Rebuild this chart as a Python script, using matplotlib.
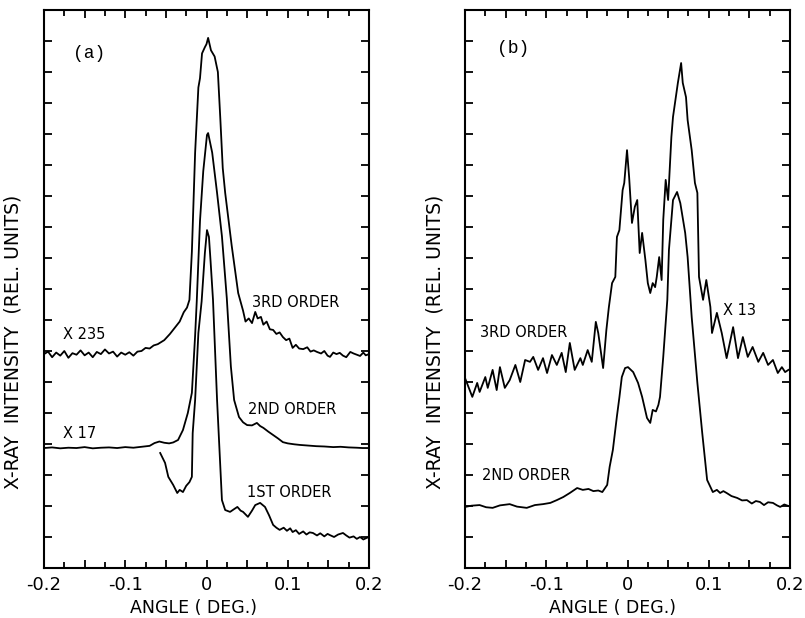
import matplotlib
matplotlib.use('Agg')
import matplotlib.pyplot as plt
from matplotlib.ticker import MultipleLocator

# x tick positions and labels (same on both panels)
xtick_pos = [-0.2, -0.15, -0.1, -0.05, 0, 0.05, 0.1, 0.15, 0.2]
xtick_labels = ['-0.2', '', '-0.1', '', '0', '', '0.1', '', '0.2']
ytick_pos = list(range(1, 18))

# panel (a), 3rd order (x235)
a3_x = [-0.200, -0.195, -0.190, -0.185, -0.180, -0.175, -0.170, -0.165, -0.160, -0.155,
        -0.150, -0.145, -0.140, -0.135, -0.130, -0.125, -0.120, -0.115, -0.110, -0.105,
        -0.100, -0.095, -0.090, -0.085, -0.080, -0.075, -0.070, -0.065, -0.060, -0.052,
        -0.045, -0.039, -0.033, -0.028, -0.024, -0.021, -0.018, -0.014, -0.010, -0.008,
        -0.0055, -0.002, 0.000, 0.002, 0.0055, 0.010, 0.014, 0.017, 0.020, 0.023,
        0.031, 0.039, 0.045, 0.048, 0.052, 0.056, 0.060, 0.063, 0.067, 0.070,
        0.074, 0.078, 0.082, 0.086, 0.090, 0.094, 0.098, 0.102, 0.106, 0.110,
        0.114, 0.119, 0.124, 0.128, 0.132, 0.136, 0.141, 0.145, 0.149, 0.152,
        0.156, 0.160, 0.164, 0.168, 0.172, 0.177, 0.181, 0.185, 0.189, 0.193,
        0.196, 0.200]
a3_y = [6.90, 6.98, 6.80, 6.95, 6.85, 7.00, 6.78, 6.93, 6.88, 7.02,
        6.86, 6.95, 6.80, 6.97, 6.90, 7.05, 6.92, 6.98, 6.82, 6.95,
        6.88, 6.96, 6.85, 6.98, 7.00, 7.10, 7.08, 7.18, 7.22, 7.35,
        7.55, 7.75, 7.95, 8.25, 8.40, 8.65, 10.2, 13.4, 15.5, 15.8,
        16.6, 16.8, 16.9, 17.1, 16.7, 16.5, 16.0, 14.5, 12.9, 12.1,
        10.4, 8.87, 8.30, 7.95, 8.05, 7.90, 8.26, 8.05, 8.10, 7.85,
        7.95, 7.70, 7.68, 7.55, 7.60, 7.45, 7.35, 7.40, 7.10, 7.20,
        7.08, 7.06, 7.12, 6.98, 7.02, 6.97, 6.92, 7.00, 6.85, 6.81,
        6.95, 6.90, 6.94, 6.85, 6.80, 6.97, 6.92, 6.88, 6.84, 6.95,
        6.86, 6.90]

# panel (a), 2nd order (x17)
a2_x = [-0.200, -0.190, -0.180, -0.170, -0.160, -0.150, -0.140, -0.130, -0.120, -0.110,
        -0.100, -0.090, -0.080, -0.070, -0.064, -0.058, -0.052, -0.046, -0.041, -0.035,
        -0.029, -0.023, -0.018, -0.014, -0.012, -0.008, -0.004, 0.0006, 0.002, 0.007,
        0.013, 0.019, 0.025, 0.030, 0.034, 0.040, 0.045, 0.050, 0.056, 0.062,
        0.066, 0.070, 0.076, 0.082, 0.088, 0.094, 0.100, 0.108, 0.115, 0.125,
        0.135, 0.145, 0.156, 0.165, 0.175, 0.185, 0.192, 0.200]
a2_y = [3.87, 3.89, 3.86, 3.88, 3.87, 3.90, 3.86, 3.88, 3.89, 3.87,
        3.90, 3.88, 3.91, 3.94, 4.03, 4.08, 4.04, 4.02, 4.05, 4.13,
        4.45, 5.00, 5.65, 7.50, 8.60, 11.2, 12.8, 13.97, 14.03, 13.4,
        12.1, 10.7, 8.70, 6.50, 5.42, 4.87, 4.70, 4.61, 4.60, 4.68,
        4.58, 4.52, 4.40, 4.29, 4.18, 4.06, 4.02, 3.99, 3.97, 3.95,
        3.93, 3.92, 3.90, 3.91, 3.89, 3.88, 3.87, 3.87]

# panel (a), 1st order
a1_x = [-0.057, -0.051, -0.047, -0.041, -0.036, -0.033, -0.029, -0.025, -0.021, -0.018,
        -0.017, -0.014, -0.010, -0.006, -0.002, 0.0006, 0.003, 0.005, 0.008, 0.013,
        0.019, 0.023, 0.029, 0.034, 0.038, 0.042, 0.045, 0.051, 0.056, 0.060,
        0.066, 0.072, 0.077, 0.082, 0.086, 0.090, 0.095, 0.099, 0.103, 0.106,
        0.110, 0.114, 0.119, 0.123, 0.127, 0.131, 0.136, 0.140, 0.145, 0.149,
        0.152, 0.157, 0.162, 0.168, 0.172, 0.176, 0.181, 0.185, 0.189, 0.193,
        0.197, 0.200]
a1_y = [3.71, 3.39, 2.94, 2.68, 2.42, 2.52, 2.45, 2.65, 2.77, 2.94,
        4.35, 5.42, 7.58, 8.60, 10.16, 10.90, 10.68, 9.90, 8.65, 5.42,
        2.19, 1.87, 1.81, 1.90, 1.97, 1.85, 1.81, 1.65, 1.85, 2.03,
        2.10, 1.97, 1.70, 1.39, 1.30, 1.23, 1.30, 1.20, 1.28, 1.16,
        1.22, 1.10, 1.18, 1.08, 1.15, 1.13, 1.05, 1.12, 1.02, 1.10,
        1.06, 1.00, 1.08, 1.13, 1.05, 0.98, 1.02, 0.94, 1.00, 0.92,
        0.97, 1.00]

# panel (b), 3rd order (x13)
b3_x = [-0.200, -0.191, -0.185, -0.182, -0.175, -0.172, -0.166, -0.161, -0.157, -0.151,
        -0.145, -0.138, -0.132, -0.126, -0.120, -0.116, -0.110, -0.104, -0.099, -0.093,
        -0.087, -0.081, -0.076, -0.071, -0.065, -0.058, -0.055, -0.049, -0.044, -0.039,
        -0.036, -0.030, -0.026, -0.023, -0.019, -0.015, -0.013, -0.010, -0.006, -0.004,
        -0.0006, 0.002, 0.0055, 0.009, 0.012, 0.015, 0.018, 0.022, 0.025, 0.028,
        0.031, 0.034, 0.036, 0.039, 0.042, 0.044, 0.047, 0.050, 0.054, 0.056,
        0.062, 0.066, 0.068, 0.072, 0.074, 0.079, 0.083, 0.086, 0.088, 0.093,
        0.097, 0.102, 0.104, 0.110, 0.116, 0.122, 0.130, 0.136, 0.142, 0.148,
        0.154, 0.161, 0.167, 0.173, 0.179, 0.185, 0.190, 0.194, 0.198]
b3_y = [6.13, 5.52, 5.97, 5.68, 6.16, 5.81, 6.39, 5.74, 6.48, 5.81,
        6.06, 6.55, 6.00, 6.71, 6.65, 6.81, 6.39, 6.77, 6.29, 6.87,
        6.55, 6.94, 6.32, 7.26, 6.39, 6.77, 6.55, 7.03, 6.65, 7.94,
        7.58, 6.45, 7.68, 8.40, 9.19, 9.39, 10.68, 10.90, 12.19, 12.42,
        13.48, 12.61, 11.13, 11.65, 11.87, 10.16, 10.81, 9.94, 9.19, 8.87,
        9.19, 9.06, 9.39, 10.03, 9.29, 11.23, 12.52, 11.87, 13.90, 14.55,
        15.65, 16.29, 15.65, 15.19, 14.45, 13.48, 12.42, 12.10, 9.39, 8.65,
        9.29, 8.42, 7.58, 8.23, 7.58, 6.77, 7.77, 6.77, 7.45, 6.81,
        7.13, 6.65, 6.94, 6.55, 6.71, 6.29, 6.48, 6.32, 6.39]

# panel (b), 2nd order
b2_x = [-0.200, -0.192, -0.182, -0.174, -0.166, -0.157, -0.145, -0.136, -0.124, -0.114,
        -0.104, -0.095, -0.087, -0.079, -0.071, -0.062, -0.055, -0.048, -0.042, -0.036,
        -0.031, -0.025, -0.022, -0.018, -0.013, -0.010, -0.007, -0.003, 0.0006, 0.007,
        0.013, 0.018, 0.024, 0.028, 0.031, 0.035, 0.038, 0.040, 0.044, 0.049,
        0.051, 0.056, 0.061, 0.065, 0.071, 0.074, 0.079, 0.086, 0.092, 0.098,
        0.105, 0.110, 0.114, 0.118, 0.122, 0.128, 0.135, 0.141, 0.147, 0.153,
        0.158, 0.163, 0.168, 0.173, 0.179, 0.184, 0.188, 0.193, 0.198]
b2_y = [1.97, 2.01, 2.03, 1.96, 1.94, 2.02, 2.06, 1.98, 1.94, 2.03,
        2.06, 2.10, 2.19, 2.29, 2.42, 2.58, 2.52, 2.55, 2.48, 2.50,
        2.45, 2.68, 3.26, 3.81, 4.90, 5.50, 6.16, 6.45, 6.48, 6.32,
        5.97, 5.52, 4.84, 4.68, 5.10, 5.05, 5.26, 5.52, 6.81, 8.65,
        10.26, 11.87, 12.13, 11.77, 10.81, 10.03, 8.10, 5.97, 4.35, 2.84,
        2.45, 2.52, 2.42, 2.48, 2.42, 2.32, 2.26, 2.18, 2.19, 2.08,
        2.16, 2.13, 2.03, 2.12, 2.10, 2.02, 1.97, 2.05, 2.00]

ylabel_text = 'X-RAY  INTENSITY  (REL. UNITS)'
xlabel_text = 'ANGLE ( DEG.)'


def style_axes(ax):
    ax.set_xlim(-0.2, 0.2)
    ax.set_ylim(0, 18)
    ax.set_xticks(xtick_pos)
    ax.set_xticklabels(xtick_labels, fontsize=13)
    ax.xaxis.set_minor_locator(MultipleLocator(0.025))
    ax.set_yticks(ytick_pos)
    ax.set_yticklabels([])
    ax.tick_params(which='both', direction='in', top=True, right=True, width=1.3)
    ax.tick_params(axis='x', which='major', length=6, pad=6)
    ax.tick_params(axis='x', which='minor', length=4)
    ax.tick_params(axis='y', which='major', length=6)
    for s in ax.spines.values():
        s.set_linewidth(1.5)
    ax.set_ylabel(ylabel_text, fontsize=13.5)
    ax.set_xlabel(xlabel_text, fontsize=12.5)


fig = plt.figure(figsize=(8.05, 6.18), dpi=100)

# panel (a)
axA = fig.add_axes([44/805, 1 - 568/618, 325/805, 558/618])
axA.plot(a3_x, a3_y, color='black', lw=1.3)
axA.plot(a2_x, a2_y, color='black', lw=1.3)
axA.plot(a1_x, a1_y, color='black', lw=1.3)
style_axes(axA)
axA.yaxis.set_label_coords(-0.066, 0.405)
axA.xaxis.set_label_coords(0.46, -0.056)
axA.text(-0.164, 16.6, '(a)', family='Liberation Mono', fontsize=13, va='center')
axA.text(0.056, 8.58, '3RD ORDER', fontsize=10.5, va='center')
axA.text(-0.177, 7.52, 'X 235', fontsize=10.5, va='center')
axA.text(0.051, 5.10, '2ND ORDER', fontsize=10.5, va='center')
axA.text(-0.177, 4.35, 'X 17', fontsize=10.5, va='center')
axA.text(0.050, 2.42, '1ST ORDER', fontsize=10.5, va='center')

# panel (b)
axB = fig.add_axes([465/805, 1 - 568/618, 325/805, 558/618])
axB.plot(b3_x, b3_y, color='black', lw=1.3)
axB.plot(b2_x, b2_y, color='black', lw=1.3)
style_axes(axB)
axB.yaxis.set_label_coords(-0.063, 0.405)
axB.xaxis.set_label_coords(0.455, -0.056)
axB.text(-0.161, 16.77, '(b)', family='Liberation Mono', fontsize=13, va='center')
axB.text(-0.182, 7.61, '3RD ORDER', fontsize=10.5, va='center')
axB.text(0.1175, 8.32, 'X 13', fontsize=10.5, va='center')
axB.text(-0.179, 3.00, '2ND ORDER', fontsize=10.5, va='center')

fig.savefig('out.png', dpi=100)
